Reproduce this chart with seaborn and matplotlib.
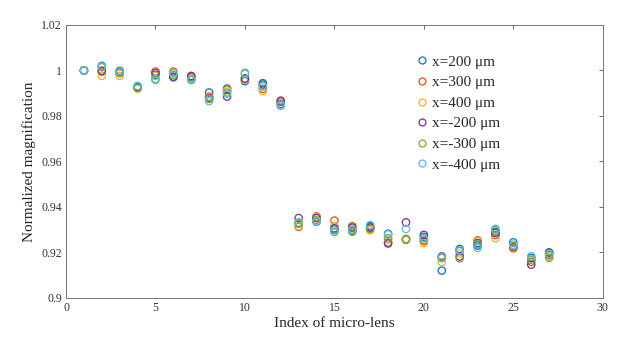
import numpy as np
import pandas as pd
import seaborn as sns
import matplotlib
matplotlib.use('Agg')
import matplotlib.pyplot as plt
from matplotlib.lines import Line2D

lens_index = list(range(1, 28))

# normalized magnification per lens, one list per detector offset
x_p200 = [1.0, 1.0020, 0.9995, 0.9926, 0.9980, 0.9973, 0.9970, 0.9903, 0.9920, 0.9953, 0.9944, 0.9853,
          0.9329, 0.9335, 0.9300, 0.9294, 0.9315, 0.9282, 0.9256, 0.9268, 0.9120, 0.9215, 0.9230, 0.9291, 0.9244, 0.9176, 0.9200]
x_p300 = [1.0, 0.9995, 0.9988, 0.9926, 0.9995, 0.9995, 0.9966, 0.9885, 0.9915, 0.9962, 0.9919, 0.9868,
          0.9312, 0.9358, 0.9340, 0.9315, 0.9309, 0.9244, 0.9256, 0.9250, 0.9178, 0.9206, 0.9253, 0.9276, 0.9218, 0.9159, 0.9188]
x_p400 = [1.0, 0.9976, 0.9976, 0.9920, 0.9976, 0.9988, 0.9966, 0.9882, 0.9912, 0.9959, 0.9909, 0.9844,
          0.9315, 0.9355, 0.9317, 0.9303, 0.9297, 0.9256, 0.9259, 0.9241, 0.9157, 0.9195, 0.9249, 0.9262, 0.9223, 0.9168, 0.9182]
x_m200 = [1.0, 0.9999, 0.9998, 0.9926, 0.9988, 0.9970, 0.9976, 0.9878, 0.9885, 0.9965, 0.9938, 0.9863,
          0.9351, 0.9351, 0.9306, 0.9309, 0.9309, 0.9239, 0.9332, 0.9277, 0.9182, 0.9182, 0.9241, 0.9285, 0.9225, 0.9146, 0.9198]
x_m300 = [1.0, 1.0014, 0.9990, 0.9923, 0.9959, 0.9980, 0.9960, 0.9875, 0.9903, 0.9985, 0.9930, 0.9850,
          0.9326, 0.9343, 0.9290, 0.9291, 0.9303, 0.9262, 0.9259, 0.9256, 0.9175, 0.9174, 0.9236, 0.9303, 0.9228, 0.9168, 0.9176]
x_m400 = [1.0, 1.0017, 0.9995, 0.9932, 0.9963, 0.9988, 0.9957, 0.9865, 0.9897, 0.9990, 0.9933, 0.9847,
          0.9332, 0.9336, 0.9297, 0.9300, 0.9320, 0.9279, 0.9303, 0.9262, 0.9178, 0.9209, 0.9220, 0.9297, 0.9234, 0.9183, 0.9194]

labels = ['x=200 \u03bcm', 'x=300 \u03bcm', 'x=400 \u03bcm', 'x=-200 \u03bcm', 'x=-300 \u03bcm', 'x=-400 \u03bcm']
colors = ['#0072BD', '#D95319', '#EDB120', '#7E2F8E', '#77AC30', '#4DBEEE']
series = [x_p200, x_p300, x_p400, x_m200, x_m300, x_m400]

df = pd.concat([pd.DataFrame({'lens': lens_index, 'mag': s, 'offset': lab})
                for s, lab in zip(series, labels)], ignore_index=True)

sns.set_style('white')
plt.rcParams['font.family'] = ['Liberation Serif', 'DejaVu Serif']

fig = plt.figure(figsize=(6.17, 3.42), dpi=100)
ax = fig.add_axes([0.107, 0.129, 0.870, 0.798])

sns.scatterplot(ax=ax, data=df, x='lens', y='mag', hue='offset', hue_order=labels,
                palette=colors, s=28, legend=False)

# open circles like the matlab original
for coll in ax.collections:
    fc = coll.get_facecolors()
    coll.set_edgecolors(fc)
    coll.set_facecolors('none')
    coll.set_linewidth(0.9)

ax.set_xlim(0, 30)
ax.set_ylim(0.9, 1.02)
ax.set_xticks([0, 5, 10, 15, 20, 25, 30])
ax.set_yticks([0.9, 0.92, 0.94, 0.96, 0.98, 1.0, 1.02])
ax.set_yticklabels(['0.9', '0.92', '0.94', '0.96', '0.98', '1', '1.02'])
ax.set_xlabel('Index of micro-lens', fontsize=11, labelpad=2)
ax.set_ylabel('Normalized magnification', fontsize=11, labelpad=4)
ax.tick_params(direction='in', length=3, width=0.6, color='#555555', labelsize=8.5,
               top=True, right=True, labelcolor='#333333', pad=3)
for sp in ax.spines.values():
    sp.set_color('#777777')
    sp.set_linewidth(0.7)

handles = [Line2D([], [], marker='o', linestyle='none', markerfacecolor='none',
                  markeredgecolor=c, markersize=5, markeredgewidth=0.9) for c in colors]
ax.legend(handles, labels, loc='upper left', bbox_to_anchor=(0.62, 0.94), frameon=False,
          fontsize=11, handletextpad=0.1, labelspacing=0.45, handlelength=1.2)

fig.savefig('out.png', dpi=100)
